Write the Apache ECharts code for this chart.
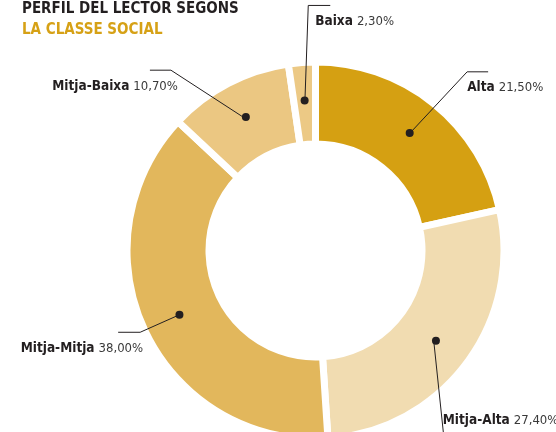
<!DOCTYPE html>
<html>
<head>
<meta charset="utf-8">
<script src="https://cdn.jsdelivr.net/npm/echarts@6.0.0/dist/echarts.min.js"></script>
<style>
  html, body { margin: 0; padding: 0; background: #fff; }
  #chart { width: 556px; height: 432px; }
</style>
</head>
<body>
<div id="chart"></div>
<script>
var categories = ['Alta', 'Mitja-Alta', 'Mitja-Mitja', 'Mitja-Baixa', 'Baixa'];
var shares = [21.5, 27.4, 38.0, 10.7, 2.3];

var colors = ['#d5a012', '#f1dcb1', '#e2b75c', '#ebc782', '#ecc985'];
var FONT = "'DejaVu Sans Condensed', 'Liberation Sans Narrow', sans-serif";
var INK = '#231f20';
var CENTER = [315.5, 250.5];

// callout leaders: first segment direction (deg clockwise from 12 o'clock) and length,
// horizontal tail (+1 right / -1 left), how far the text slides back along the tail,
// and whether the text hangs under the tail or sits on top of it
var leaders = [
  { ang: 43, len: 87, side: 1, tail: 21, back: 21, under: true },
  { ang: 174, len: 98, side: 1, tail: 20, back: 21, under: false },
  { ang: 246, len: 46, side: -1, tail: 22, back: 25, under: true },
  { ang: 303, len: 91, side: -1, tail: 21, back: 28, under: true },
  { ang: 2, len: 98, side: 1, tail: 22, back: 15, under: true }
];

function pct(v) {
  return v.toFixed(2).replace('.', ',') + '%';
}

var chart = echarts.init(document.getElementById('chart'), null, { renderer: 'canvas' });

chart.setOption({
  animation: false,
  title: {
    left: 22,
    top: -1,
    padding: 0,
    text: '{a|PERFIL DEL LECTOR SEGONS}\n{b|LA CLASSE SOCIAL}',
    textStyle: {
      rich: {
        a: { fontFamily: FONT, fontWeight: 'bold', fontSize: 15, lineHeight: 21, color: INK },
        b: { fontFamily: FONT, fontWeight: 'bold', fontSize: 15, lineHeight: 21, color: '#d6a116' }
      }
    }
  },
  series: [{
    // the ring, its dots sit at mid-ring as inside labels
    type: 'pie',
    center: CENTER,
    radius: [106.5, 188.5],
    startAngle: 90,
    clockwise: true,
    silent: true,
    z: 2,
    itemStyle: { borderColor: '#fff', borderWidth: 7, borderJoin: 'miter' },
    label: {
      show: true,
      position: 'inside',
      formatter: '{d|}',
      rich: { d: { width: 8, height: 8, borderRadius: 4, backgroundColor: INK } }
    },
    labelLine: { show: false },
    data: categories.map(function (c, i) {
      return { name: c, value: shares[i], itemStyle: { color: colors[i] } };
    })
  }, {
    // invisible pie out to mid-ring, only used for the callouts
    type: 'pie',
    center: CENTER,
    radius: [0, 147.5],
    startAngle: 90,
    clockwise: true,
    silent: true,
    z: 3,
    avoidLabelOverlap: false,
    itemStyle: { color: 'rgba(0,0,0,0)' },
    label: {
      show: true,
      position: 'outside',
      formatter: function (p) {
        return '{n|' + p.name + '}{v|' + pct(shares[p.dataIndex]) + '}';
      },
      rich: {
        n: { fontFamily: FONT, fontWeight: 'bold', fontSize: 13.5, lineHeight: 16, color: INK },
        v: { fontFamily: FONT, fontSize: 13, lineHeight: 16, color: '#3a3a3a', padding: [0, 0, 0, 4] }
      }
    },
    labelLine: { show: true, length: 10, length2: 10, lineStyle: { color: INK, width: 1 } },
    labelLayout: function (p) {
      var L = leaders[p.dataIndex];
      var a = p.labelLinePoints[0];
      var rad = L.ang * Math.PI / 180;
      var b = [a[0] + L.len * Math.sin(rad), a[1] - L.len * Math.cos(rad)];
      var e = [b[0] + L.side * L.tail, b[1]];
      return {
        x: e[0] - L.side * L.back,
        y: b[1] + (L.under ? 8 : -8),
        align: L.side > 0 ? 'left' : 'right',
        verticalAlign: L.under ? 'top' : 'bottom',
        labelLinePoints: [a, b, e]
      };
    },
    data: categories.map(function (c, i) {
      return { name: c, value: shares[i] };
    })
  }]
});

window.addEventListener('resize', function () {
  chart.resize();
});
</script>
</body>
</html>
